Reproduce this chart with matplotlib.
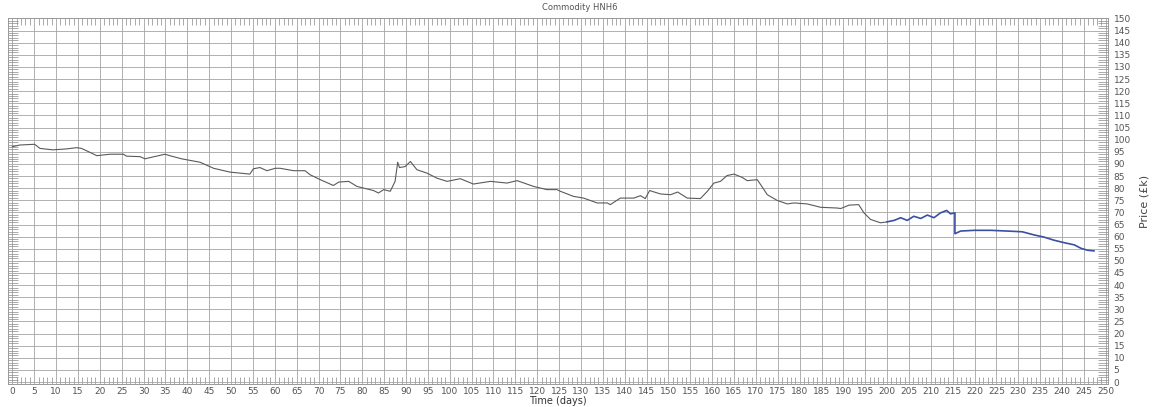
import matplotlib
matplotlib.use("Agg")
import matplotlib.pyplot as plt
from matplotlib.ticker import MultipleLocator

# price trace (days, £k)
days_gray = [0, 1.7, 5.1, 6.3, 9.3, 12.4, 14.7, 15.8, 17.7, 19.3, 22.3, 25.4, 26.1,
             29.2, 30.3, 32.2, 34.9, 36.0, 38.7, 42.9, 46.0, 49.8, 52.1, 54.3, 55.1,
             56.6, 58.2, 60.1, 61.2, 64.3, 66.9, 68.1, 70.4, 73.4, 74.6, 76.9, 78.8,
             82.6, 83.7, 84.9, 86.4, 87.5, 88.1, 88.5, 89.8, 91.0, 92.5, 94.8, 97.1,
             99.4, 102.4, 105.4, 109.3, 113.1, 115.4, 119.2, 122.2, 124.5, 125.3,
             128.3, 130.6, 133.7, 136.0, 136.7, 139.0, 142.1, 143.6, 144.7, 145.7,
             148.2, 150.5, 152.1, 154.3, 157.3, 158.9, 160.4, 161.9, 163.4, 165.0,
             166.9, 168.0, 170.3, 171.1, 172.6, 174.9, 177.2, 178.7, 181.7, 184.8,
             188.6, 189.4, 191.3, 193.5, 194.7, 196.2, 198.5, 200.0]
price_gray = [97.1, 97.8, 98.1, 96.4, 95.8, 96.2, 96.7, 96.4, 94.8, 93.4, 94.0, 94.0, 93.2,
              93.0, 92.1, 92.9, 94.0, 93.4, 92.1, 90.7, 88.2, 86.6, 86.2, 85.8, 88.0,
              88.5, 87.2, 88.2, 88.2, 87.2, 87.2, 85.5, 83.5, 81.1, 82.5, 82.8, 80.7,
              79.0, 78.0, 79.4, 78.7, 82.8, 90.7, 88.5, 88.9, 91.0, 87.6, 86.2, 84.1,
              82.8, 83.9, 81.7, 82.8, 82.1, 83.1, 80.7, 79.4, 79.4, 78.7,
              76.6, 75.9, 73.9, 73.9, 73.2, 75.9, 75.9, 76.9, 75.7, 79.0,
              77.6, 77.3, 78.4, 75.9, 75.7, 78.7, 82.1, 82.8, 85.2, 85.8,
              84.4, 83.1, 83.5, 81.4, 77.3, 74.9, 73.5, 73.9, 73.5, 72.1,
              71.8, 71.6, 73.0, 73.2, 69.8, 67.1, 65.7, 66.1]

days_blue = [200.0, 201.6, 203.1, 204.6, 206.1, 207.7, 209.2, 210.7, 212.2, 213.6,
             214.5, 215.5, 215.5, 216.8, 219.9, 223.7, 227.5, 230.9, 233.6, 235.9,
             238.2, 240.5, 242.8, 244.3, 245.8, 247.3]
price_blue = [66.1, 66.7, 67.8, 66.7, 68.4, 67.5, 68.9, 67.8, 69.8, 70.8,
              69.4, 69.8, 61.2, 62.3, 62.6, 62.6, 62.3, 62.0, 60.7, 59.8,
              58.5, 57.5, 56.6, 55.2, 54.4, 54.1]

W, H = 1159, 407
fig = plt.figure(figsize=(W / 100, H / 100), dpi=100)
ax = fig.add_axes([8 / W, 1 - 384 / H, 1100 / W, 366 / H])

ax.plot(days_gray, price_gray, color="#5a5a5a", lw=0.8)
ax.plot(days_blue, price_blue, color="#3b4fa3", lw=1.2)

ax.set_xlim(-1, 250.5)
ax.set_ylim(-0.8, 150.2)

ax.xaxis.set_major_locator(MultipleLocator(5))
ax.xaxis.set_minor_locator(MultipleLocator(1))
ax.yaxis.set_major_locator(MultipleLocator(5))
ax.yaxis.set_minor_locator(MultipleLocator(1))

ax.grid(which="major", color="#a3a3a3", lw=0.6)
ax.tick_params(which="major", length=0, labelsize=6.5, labelcolor="#555555",
               left=False, right=False, labelleft=False, labelright=True)
ax.tick_params(axis="x", which="major", pad=2)
ax.tick_params(axis="y", which="major", pad=4)
ax.tick_params(which="minor", direction="in", color="#888888", width=0.5,
               top=True, bottom=True, left=True, right=True)
ax.tick_params(axis="x", which="minor", length=5)
ax.tick_params(axis="y", which="minor", length=7)

for s in ax.spines.values():
    s.set_color("#999999")
    s.set_linewidth(0.7)

ax.set_xlabel("Time (days)", fontsize=7, color="#333333", labelpad=0)
ax.yaxis.set_label_position("right")
ax.set_ylabel("Price (£k)", fontsize=8, color="#444444", labelpad=6)
fig.text(0.5, 1 - 8 / H, "Commodity HNH6", ha="center", va="center",
         fontsize=6, color="#555555")

fig.savefig("out.png", dpi=100, facecolor="white")
